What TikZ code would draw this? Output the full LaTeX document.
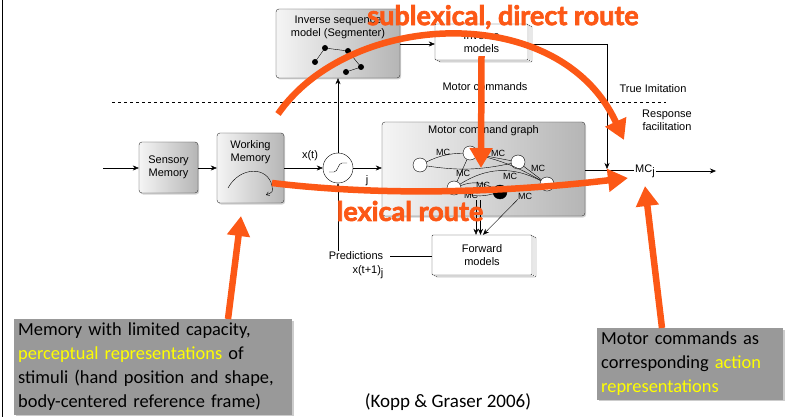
\documentclass[tikz,border=0pt]{standalone}
\usepackage{fontspec}
\setmainfont{Liberation Sans}
\newfontfamily\routefont{Lato}[BoldFeatures={FakeBold=2.5}]
\newfontfamily\notefont{Carlito}
\usetikzlibrary{arrows.meta,shadows,calc}
\definecolor{routeorange}{RGB}{252,88,22}
\definecolor{notegray}{RGB}{153,153,153}
\definecolor{noteyellow}{RGB}{255,255,0}

\begin{document}
\begin{tikzpicture}[x=1pt,y=-1pt,
  blockbox/.style={draw=black!80, rounded corners=3pt, left color=gray!8, right color=gray!58,
    drop shadow={opacity=0.35,shadow xshift=1.2pt,shadow yshift=-1.5pt},
    align=center, font=\fontsize{11}{13}\selectfont, inner sep=0pt},
  stackbox/.style={draw=black!80, fill=white, rounded corners=1pt,
    double copy shadow={shadow xshift=2pt,shadow yshift=-1pt, draw=black!70},
    align=center, font=\fontsize{11}{13}\selectfont, inner sep=0pt},
  lbl/.style={font=\fontsize{11}{13}\selectfont, align=center, inner sep=1pt},
  mclbl/.style={font=\fontsize{9}{10}\selectfont, inner sep=0pt},
  gnode/.style={circle, draw=black, fill=white, minimum size=14pt, inner sep=0pt},
  flow/.style={draw=black, -{Stealth[length=6pt,width=5pt]}},
  wire/.style={draw=black},
  route/.style={draw=routeorange, line width=6.5pt, -{Triangle[length=20pt,width=22pt]}},
  routetext/.style={text=routeorange, font=\routefont\bfseries\fontsize{27}{29}\selectfont, inner sep=0pt},
  notebox/.style={fill=notegray, inner sep=4pt, align=left,
    drop shadow={opacity=0.4,shadow xshift=1.5pt,shadow yshift=-1.5pt},
    font=\notefont\fontsize{18.4}{24}\selectfont, anchor=north west}
]
\useasboundingbox (0,0) rectangle (787,417);

% frame line on the left
\draw[line width=1pt] (2,0) -- (2,417);

% main blocks
\node[blockbox, minimum width=59pt, minimum height=51pt] (sens) at (168.5,167.5) {Sensory\\Memory};
\node[blockbox, minimum width=67pt, minimum height=70pt] (wm) at (250.5,168) {};
\node[lbl] (wmtitle) at (250.5,152) {Working\\Memory};
\node[blockbox, minimum width=124pt, minimum height=69pt] (seg) at (338,43.5) {};
\node[lbl] (segtitle) at (338,27) {Inverse sequence\\model (Segmenter)};
\node[stackbox, minimum width=93pt, minimum height=36pt] (inv) at (481.5,42) {Inverse\\models};
\node[blockbox, minimum width=203pt, minimum height=94pt] (mcg) at (483.5,169) {};
\node[lbl] (mcgtitle) at (483.5,131) {Motor command graph};
\node[stackbox, minimum width=100pt, minimum height=40pt] (fwd) at (482,255) {Forward\\models};

% sigmoid unit
\node[circle, draw=black, fill=white, minimum size=30pt, inner sep=0pt] (sig) at (338,168) {};
\draw (329,172) -- (334,172) .. controls (338,172) and (338,163) .. (342,163) -- (347,163);

% trajectory sketch inside working memory
\draw[-{Straight Barb[length=3pt,width=4pt]}] (228,188) .. controls (240,166) and (268,166) .. (272,186)
  .. controls (273,192) .. (266,195);

% segmenter point graph
\foreach \p/\q in {315/62, 325/48, 348/51, 361/67, 346/72}
  \fill (\p,\q) circle (3pt);
\draw (315,62) -- (325,48) -- (348,51) -- (361,67) -- (346,72);

% labels
\node[lbl] (xt) at (310,156) {x(t)};
\node[lbl] (jl) at (367,181) {j};
\node[lbl] (motcmd) at (485,87) {Motor commands};
\node[lbl] (trueimit) at (653,89) {True Imitation};
\node[lbl] (respfac) at (667,120) {Response\\facilitation};
\node[lbl] (mcj) at (645,171) {MC\raisebox{-3pt}{j}};
\node[lbl] (pred) at (356,256) {Predictions};
\node[lbl] (predx) at (368,272) {x(t+1)\raisebox{-3pt}{j}};

\coordinate (inpt) at (103,168);
\coordinate (outpt) at (716,171);
\coordinate (imcorner) at (607,44);
\coordinate (imjoin) at (607,170);
\coordinate (dashL) at (112,102);
\coordinate (dashR) at (666,102);

% dashed boundary
\draw[dashed] (dashL) -- (dashR);

% signal flow
\draw[flow] (inpt) -- (sens.west |- inpt);
\draw[flow] (sens.east |- inpt) -- (wm.west |- inpt);
\draw[flow] (wm.east |- sig) -- (sig.west);
\draw[flow] (sig.east) -- (mcg.west |- sig);
\draw[flow] (sig.north) -- (seg.south -| sig);
\draw[flow] (pred.north -| sig) -- (sig.south);
\draw[flow] (seg.east |- imcorner) -- (inv.west |- imcorner);
\draw[flow] (inv.south) -- (mcg.north -| inv.south);
\draw[wire] (inv.east |- imcorner) -- (imcorner);
\draw[flow] (imcorner) -- ($(imjoin)+(0,-1)$);
\draw[wire] (mcg.east |- imjoin) -- (mcj.west |- imjoin);
\draw[flow] (mcj.east |- outpt) -- (outpt);
\draw[wire] ($(fwd.west)+(0,1)$) -- ($(pred.east |- fwd.west)+(6,1)$);

% motor command graph
\node[gnode] (g1) at (420,165) {};
\node[gnode] (g2) at (470,153) {};
\node[gnode] (g3) at (518,162) {};
\node[gnode] (g4) at (547,184) {};
\node[gnode] (g5) at (454,188) {};
\node[gnode, fill=black] (g6) at (500,192) {};
\draw (g1) to[bend left=12] (g2);
\draw (g1) to[bend right=10] (g3);
\draw (g2) -- (g3);
\draw (g2) to[bend left=8] (g4);
\draw (g3) -- (g4);
\draw (g2) -- (g5);
\draw (g5) to[bend left=25] (g6);
\draw (g5) to[bend right=20] (g6);
\draw (g5) to[bend left=30] (g4);
\node[mclbl] at (443,152) {MC};
\node[mclbl] at (498,153) {MC};
\node[mclbl] at (463,173) {MC};
\node[mclbl] at (510,176) {MC};
\node[mclbl] at (538,168) {MC};
\node[mclbl] at (483,185) {MC};
\node[mclbl] at (471,195) {MC};
\node[mclbl] (mclast) at (525,196) {MC};

% arrows into the forward models
\draw[flow] (476,200) -- (fwd.north -| 476,0);
\draw[flow] (480.5,200) -- (fwd.north -| 480.5,0);
\draw[flow] (mclast.south west) -- (fwd.north -| 483,0);

% processing routes
\coordinate (subA) at (278,114);
\coordinate (subB) at (624,140);
\coordinate (lexA) at (272,183);
\coordinate (lexB) at (628,178);
\draw[route] (subA) .. controls (350,10) and (560,0) .. (subB);
\draw[route] (lexA) .. controls (380,196) and (500,193) .. (lexB);
\draw[route] (inv.south) ++(0,-4) -- (481,168);
\node[routetext] (sublex) at (503,17) {sublexical, direct route};
\node[routetext] (lex) at (410,211) {lexical route};

% notes
\node[notebox, text width=270pt] (noteL) at (14,319) {Memory with limited capacity,\\
  \textcolor{noteyellow}{perceptual representations} of\\
  stimuli (hand position and shape,\\
  body-centered reference frame)};
\node[notebox, text width=178pt] (noteR) at (597,328) {Motor commands as\\
  corresponding \textcolor{noteyellow}{action}\\
  \textcolor{noteyellow}{representations}};
\draw[route] (noteL.north -| 228,0) -- (241,216);
\draw[route] (noteR.north -| 662,0) -- (645,186);

\node[font=\notefont\fontsize{19}{22}\selectfont] (cite) at (448,402) {(Kopp \& Graser 2006)};
\end{tikzpicture}
\end{document}
